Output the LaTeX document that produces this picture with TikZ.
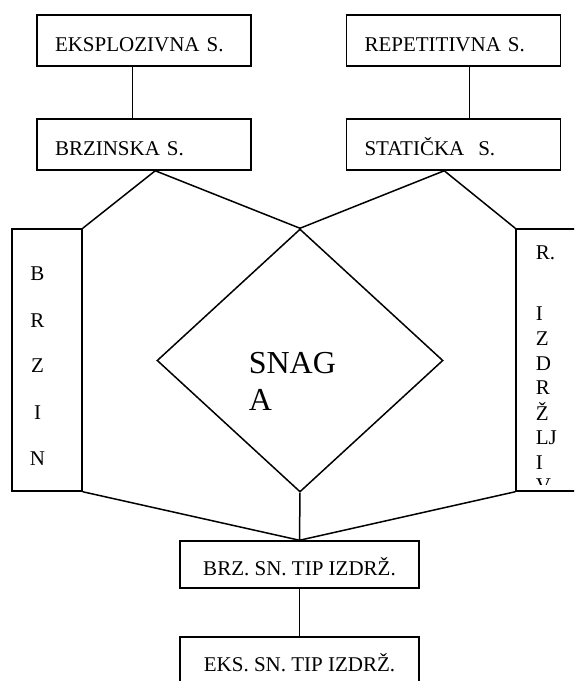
\documentclass[tikz,border=0pt]{standalone}
\usepackage{fontspec}
\setmainfont{Liberation Serif}
\usetikzlibrary{shapes.geometric}
\begin{document}
\begin{tikzpicture}[x=1pt,y=-1pt,
  line width=1.5pt,
  topbox/.style={draw, rectangle, inner xsep=18pt, inner ysep=0pt, text width=178pt, align=left,
    minimum height=51pt, text height=21pt, text depth=0pt, font=\fontsize{21}{25}\selectfont},
  botbox/.style={draw, rectangle, inner sep=0pt, minimum width=239pt, minimum height=47pt,
    text height=21pt, text depth=0pt, font=\fontsize{21}{25}\selectfont},
  tallbox/.style={draw, rectangle, inner sep=0pt, minimum height=262pt},
  letter/.style={inner sep=0pt, font=\fontsize{21}{25}\selectfont},
  big/.style={inner sep=0pt, font=\fontsize{32}{38}\selectfont}]
\useasboundingbox (0,0) rectangle (574,681);
\clip (0,0) rectangle (574,681);

\node[topbox] (eks) at (144,40.5) {EKSPLOZIVNA S.};
\node[topbox] (rep) at (453.5,40.5) {REPETITIVNA S.};
\node[topbox] (brz) at (144,144.5) {BRZINSKA S.};
\node[topbox] (stat) at (453.5,144.5) {STATIČKA\ \ S.};

\node[tallbox, minimum width=70pt] (lbox) at (47,360) {};
\node[tallbox, minimum width=80pt] (rbox) at (556,360) {};
\node[diamond, draw, inner sep=0pt, minimum width=286pt, minimum height=263pt] (dia) at (300,360.5) {};
\node[big, anchor=base west] (snag1) at (248,373) {SNAG};
\node[big, anchor=base west] (snag2) at (248,410) {A};

\foreach \t/\yy [count=\i] in {B/280,R/327,Z/372,I/419,N/465}
  \node[letter, anchor=base] (bl\i) at (37.5,\yy) {\t};

\begin{scope}
  \clip (rbox.north west) rectangle ([yshift=7pt]rbox.south east);
  \foreach \t/\yy [count=\i] in {R./259,I/320,Z/345,D/370,R/394,Ž/420,LJ/444,I/469,V/492}
    \node[letter, anchor=base west] (rl\i) at (535,\yy) {\t};
\end{scope}

\node[botbox] (brzsn) at (299.5,564.5) {BRZ. SN. TIP IZDRŽ.};
\node[botbox] (ekssn) at (299.5,660.5) {EKS. SN. TIP IZDRŽ.};

\draw ([xshift=96pt]eks.south west) -- ([xshift=96pt]brz.north west);
\draw ([xshift=123.5pt]rep.south west) -- ([xshift=123.5pt]stat.north west);
\coordinate (bp) at ([xshift=119pt]brz.south west);
\coordinate (sp) at ([xshift=98.5pt]stat.south west);
\draw (lbox.north east) -- (bp) -- (dia.north) -- (sp) -- (rbox.north west);
\draw (lbox.south east) -- (brzsn.north);
\draw (rbox.south west) -- (brzsn.north);
\draw (dia.south) -- (brzsn.north);
\draw (brzsn.south) -- (ekssn.north);
\end{tikzpicture}
\end{document}
